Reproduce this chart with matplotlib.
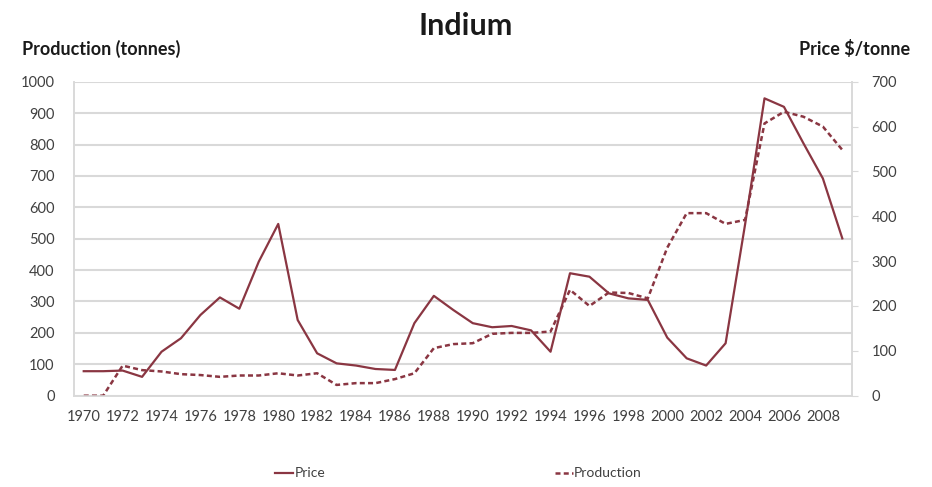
import numpy as np
import matplotlib
matplotlib.use("Agg")
import matplotlib.pyplot as plt

plt.rcParams['font.family'] = ['Lato', 'DejaVu Sans']

years = list(range(1970, 2010))
price = [78, 78, 80, 60, 140, 183, 257, 313, 277, 427,
         547, 241, 135, 103, 96, 85, 82, 231, 318, 273,
         231, 218, 222, 208, 140, 390, 379, 326, 310, 305,
         185, 119, 96, 167, 545, 947, 920, 804, 692, 501]
production = [0, 0, 67, 57, 54, 48, 46, 42, 45, 45,
              50, 45, 50, 24, 28, 28, 37, 50, 106, 115,
              117, 138, 140, 140, 143, 236, 200, 230, 229, 217,
              330, 407, 407, 383, 392, 607, 633, 622, 600, 548]
xlabels = [str(y) if y % 2 == 0 else '' for y in years]

line_col = '#8a3642'
grid_col = '#d9d9d9'
text_col = '#404040'

fig = plt.figure(figsize=(9.32, 4.87), dpi=100)
ax = fig.add_axes([0.0794, 0.1875, 0.8348, 0.6447])
ax2 = ax.twinx()

idx = np.arange(len(years))
l1, = ax.plot(idx, price, color=line_col, lw=1.6, label='Price')
l2, = ax2.plot(idx, production, color=line_col, lw=1.8, dashes=(2.0, 1.3),
               label='Production')

ax.set_xlim(-0.5, len(years) - 0.5)
ax.set_ylim(0, 1000)
ax2.set_ylim(0, 700)
ax.set_yticks(np.arange(0, 1001, 100))
ax2.set_yticks(np.arange(0, 701, 100))
ax.set_xticks(idx)
ax.set_xticklabels(xlabels)

ax.grid(axis='y', color=grid_col, lw=1.5)
ax.set_axisbelow(True)
for a in (ax, ax2):
    for s in a.spines.values():
        s.set_color(grid_col)
        s.set_linewidth(1.2)
    a.spines['top'].set_visible(False)
ax.tick_params(axis='x', length=0, labelsize=10.5, colors=text_col, pad=10)
ax.tick_params(axis='y', length=0, labelsize=10.5, colors=text_col, pad=14)
ax2.tick_params(axis='y', length=4, color=grid_col, labelsize=10.5,
                colors=text_col, pad=10)

fig.text(0.5, 0.947, 'Indium', ha='center', va='center', fontsize=22,
         fontweight='bold', color='#1a1a1a')
fig.text(0.024, 0.9, 'Production (tonnes)', ha='left', va='center',
         fontsize=13, fontweight='bold', color='#1a1a1a')
fig.text(0.977, 0.9, 'Price $/tonne', ha='right', va='center',
         fontsize=13, fontweight='bold', color='#1a1a1a')

leg = fig.legend(handles=[l1, l2], loc='center', bbox_to_anchor=(0.492, 0.028),
                 ncol=2, frameon=False, fontsize=10, columnspacing=16.5,
                 handlelength=1.3, handletextpad=0.1)
for t in leg.get_texts():
    t.set_color(text_col)

fig.savefig('out.png', dpi=100)
